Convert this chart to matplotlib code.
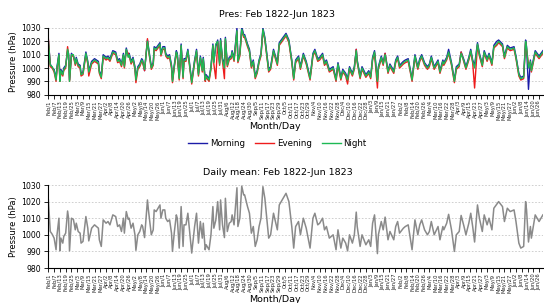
import numpy as np
import matplotlib
matplotlib.use("Agg")
import matplotlib.pyplot as plt
from matplotlib.lines import Line2D
from datetime import date, timedelta

# day offsets from 1 Feb 1822
days = [
    0, 2, 4, 6, 8, 9, 11, 12, 13, 15,
    16, 18, 20, 21, 22, 24, 26, 28, 29, 31,
    33, 34, 36, 39, 41, 42, 45, 48, 52, 53,
    55, 57, 60, 62, 64, 67, 70, 72, 74, 76,
    78, 79, 81, 83, 84, 86, 88, 90, 91, 93,
    95, 97, 98, 100, 103, 104, 107, 109, 110, 112,
    114, 116, 117, 119, 121, 122, 124, 126, 128, 129,
    131, 133, 134, 136, 138, 140, 141, 143, 145, 147,
    149, 152, 154, 156, 158, 160, 161, 163, 164, 167,
    169, 171, 172, 174, 176, 178, 179, 181, 183, 184,
    186, 188, 190, 191, 193, 196, 197, 199, 201, 203,
    204, 207, 209, 211, 213, 215, 217, 219, 221, 223,
    225, 227, 229, 231, 234, 238, 240, 244, 247, 250,
    253, 255, 257, 260, 262, 265, 268, 270, 272, 275,
    277, 280, 282, 285, 287, 289, 292, 296, 299, 301,
    304, 306, 309, 311, 313, 316, 318, 320, 321, 324,
    326, 330, 333, 335, 337, 339, 342, 343, 346, 348,
    350, 353, 355, 359, 361, 363, 365, 369, 371, 374,
    378, 381, 384, 386, 388, 391, 394, 396, 398, 401,
    405, 407, 410, 411, 414, 416, 419, 422, 424, 427,
    429, 432, 434, 437, 439, 441, 443, 446, 448, 451,
    453, 456, 458, 461, 463, 466, 468, 472, 474, 477,
    480, 484, 486, 489, 491, 494, 496, 497, 499, 501,
    502, 506, 510, 514]

morning = [
    1021, 1003, 1000, 999, 992, 1001, 1011, 991, 999, 996,
    1000, 1002, 1013, 1011, 991, 1011, 1009, 1004, 1008, 1003,
    1002, 996, 997, 1012, 1005, 998, 1005, 1007, 1005, 998,
    994, 1010, 1008, 1009, 1007, 1013, 1012, 1006, 1007, 1003,
    1011, 1002, 1015, 1009, 1011, 1005, 1008, 1001, 992, 1001,
    1003, 1007, 1006, 998, 1021, 1016, 1001, 1004, 1016, 1015,
    1017, 1019, 1011, 1016, 1016, 1011, 1009, 1010, 1002, 991,
    1003, 1013, 1011, 993, 1018, 994, 1007, 1007, 1014, 1002,
    990, 1006, 1014, 996, 1009, 999, 1008, 992, 995, 992,
    1001, 1018, 1005, 1016, 1021, 1004, 1022, 1007, 1003, 1023,
    1003, 1008, 1009, 1013, 1007, 1030, 1006, 1011, 1031, 1025,
    1025, 1018, 1014, 1002, 1006, 994, 998, 1006, 1011, 1030,
    1023, 1011, 999, 1001, 1014, 1004, 1019, 1023, 1026, 1021,
    1006, 993, 1006, 1009, 1001, 1011, 1005, 999, 993, 1011,
    1014, 1007, 1008, 1011, 1004, 1006, 999, 1001, 992, 1004,
    993, 999, 996, 992, 1001, 996, 1001, 1014, 1006, 994,
    1001, 995, 998, 994, 1008, 1013, 991, 1001, 1009, 1004,
    1011, 998, 1003, 998, 1006, 1009, 1002, 1005, 1006, 1007,
    992, 1010, 1001, 1007, 1010, 1004, 1001, 1003, 1009, 1001,
    1006, 998, 1006, 1004, 1008, 1014, 1004, 991, 1001, 1003,
    1012, 1006, 1001, 1008, 1014, 1006, 1002, 1019, 1011, 1003,
    1013, 1007, 1011, 1004, 1017, 1020, 1021, 1018, 1009, 1017,
    1015, 1016, 1009, 996, 993, 994, 1021, 1016, 984, 1006,
    999, 1013, 1009, 1013]

evening = [
    1022, 1001, 1000, 997, 990, 999, 1009, 990, 997, 994,
    998, 1000, 1016, 1009, 990, 1009, 1009, 1002, 1006, 1001,
    1000, 994, 995, 1010, 1003, 994, 1003, 1005, 1003, 996,
    992, 1008, 1006, 1007, 1005, 1011, 1010, 1004, 1005, 1001,
    1009, 1000, 1013, 1011, 1009, 1003, 1006, 999, 989, 999,
    1001, 1005, 1004, 998, 1022, 1014, 999, 1002, 1014, 1013,
    1015, 1017, 1009, 1014, 1014, 1009, 1007, 1008, 1000, 989,
    1001, 1011, 1009, 991, 1016, 992, 1005, 1005, 1012, 1000,
    988, 1004, 1012, 994, 1007, 997, 1006, 990, 993, 990,
    999, 1016, 1003, 992, 1019, 1002, 1020, 1005, 992, 1021,
    1001, 1006, 1007, 1011, 1005, 1027, 1004, 1009, 1028, 1023,
    1023, 1016, 1012, 1000, 1004, 992, 996, 1004, 1009, 1028,
    1021, 1009, 997, 999, 1012, 1002, 1017, 1021, 1024, 1019,
    1004, 991, 1004, 1007, 999, 1009, 1003, 997, 991, 1009,
    1012, 1005, 1006, 1009, 1002, 1004, 997, 999, 990, 1002,
    991, 997, 994, 988, 999, 994, 999, 1014, 1004, 992,
    999, 993, 996, 992, 1006, 1011, 985, 999, 1007, 1002,
    1011, 996, 1001, 996, 1004, 1007, 1000, 1003, 1004, 1005,
    990, 1008, 999, 1005, 1008, 1002, 999, 1001, 1007, 999,
    1004, 996, 1004, 1002, 1006, 1011, 1002, 989, 999, 1001,
    1012, 1004, 999, 1006, 1012, 1004, 985, 1017, 1009, 1001,
    1011, 1005, 1009, 1002, 1015, 1017, 1019, 1016, 1007, 1015,
    1013, 1014, 1007, 994, 991, 992, 1019, 1014, 1003, 1004,
    997, 1011, 1007, 1011]

night = [
    1020, 1002, 1001, 998, 991, 1000, 1010, 990, 998, 995,
    999, 1001, 1014, 1010, 990, 1010, 1010, 1003, 1007, 1002,
    1001, 995, 996, 1011, 1004, 997, 1004, 1006, 1004, 997,
    993, 1009, 1007, 1008, 1006, 1012, 1011, 1005, 1006, 1002,
    1010, 1001, 1014, 1008, 1010, 1004, 1007, 1000, 991, 1000,
    1002, 1006, 1005, 999, 1020, 1015, 1000, 1003, 1015, 1014,
    1016, 1018, 1010, 1015, 1015, 1010, 1008, 1009, 1001, 990,
    1002, 1012, 1010, 992, 1017, 993, 1006, 1006, 1013, 1001,
    989, 1005, 1013, 995, 1008, 998, 1007, 991, 994, 991,
    1000, 1017, 1004, 1018, 1020, 1003, 1021, 1006, 1000, 1022,
    1002, 1007, 1008, 1012, 1006, 1028, 1005, 1010, 1029, 1024,
    1024, 1017, 1013, 1001, 1005, 993, 997, 1005, 1010, 1029,
    1022, 1010, 998, 1000, 1013, 1003, 1018, 1022, 1025, 1020,
    1005, 992, 1005, 1008, 1000, 1010, 1004, 998, 992, 1010,
    1013, 1006, 1007, 1010, 1003, 1005, 998, 1000, 991, 1003,
    992, 998, 995, 991, 1000, 995, 1000, 1013, 1005, 993,
    1000, 994, 997, 993, 1007, 1012, 990, 1000, 1008, 1003,
    1010, 997, 1002, 997, 1005, 1008, 1001, 1004, 1005, 1006,
    991, 1009, 1000, 1006, 1009, 1003, 1000, 1002, 1008, 1000,
    1005, 997, 1005, 1003, 1007, 1012, 1003, 990, 1000, 1002,
    1011, 1005, 1000, 1007, 1013, 1005, 1000, 1018, 1010, 1002,
    1012, 1006, 1010, 1003, 1016, 1018, 1020, 1017, 1008, 1016,
    1014, 1015, 1008, 995, 992, 993, 1020, 1015, 1000, 1005,
    998, 1012, 1008, 1012]

start = date(1822, 2, 1)
n_days = 515
tick_step = 6

x = np.array(days)
mean = (np.array(morning) + np.array(evening) + np.array(night)) / 3.0

tick_pos = list(range(0, n_days, tick_step))
tick_lab = []
for t in tick_pos:
    d = start + timedelta(days=t)
    tick_lab.append(f"{d.strftime('%b')}/{d.day}")

c_morn = "#1c1ca8"
c_even = "#ee1c1c"
c_night = "#1db954"

fig = plt.figure(figsize=(5.44, 3.03), dpi=100)


def style_axes(ax):
    ax.set_xlim(-0.5, n_days - 1)
    ax.set_ylim(980, 1030)
    ax.set_yticks(range(980, 1031, 10))
    for v in range(990, 1031, 10):
        ax.axhline(v, color="#c8c8c8", lw=0.6, ls=(0, (2, 2)), zorder=0)
    ax.spines["top"].set_visible(False)
    ax.spines["right"].set_visible(False)
    ax.spines["left"].set_linewidth(0.8)
    ax.spines["bottom"].set_linewidth(0.8)
    ax.set_xticks(tick_pos)
    ax.set_xticklabels(tick_lab, rotation=90, fontsize=3.8, color="#222222")
    ax.tick_params(axis="x", length=3, width=0.6, pad=1)
    ax.tick_params(axis="y", length=3, width=0.6, labelsize=5.6, pad=2)


# top: three observations
ax1 = fig.add_axes([0.088, 0.6875, 0.910, 0.2201])
ax1.plot(x, morning, color=c_morn, lw=1.0)
ax1.plot(x, evening, color=c_even, lw=1.0)
ax1.plot(x, night, color=c_night, lw=1.0)
style_axes(ax1)

fig.text(0.51, 0.952, "Pres: Feb 1822-Jun 1823", ha="center", va="center", fontsize=6.8)
fig.text(0.024, 0.7975, "Pressure (hPa)", rotation=90, ha="center", va="center", fontsize=6.0)
fig.text(0.505, 0.581, "Month/Day", ha="center", va="center", fontsize=6.8)

handles = [Line2D([], [], color=c_morn, lw=1.0),
           Line2D([], [], color=c_even, lw=1.0),
           Line2D([], [], color=c_night, lw=1.0)]
fig.legend(handles, ["Morning", "Evening", "Night"], loc="center",
           bbox_to_anchor=(0.51, 0.527), ncol=3, frameon=False, fontsize=6.2,
           handlelength=2.2, handletextpad=0.3, columnspacing=1.2)

# bottom: daily mean
ax2 = fig.add_axes([0.088, 0.1155, 0.910, 0.2739])
ax2.plot(x, mean, color="#8a8a8a", lw=1.1)
style_axes(ax2)

fig.text(0.51, 0.432, "Daily mean: Feb 1822-Jun 1823", ha="center", va="center", fontsize=6.8)
fig.text(0.024, 0.2525, "Pressure (hPa)", rotation=90, ha="center", va="center", fontsize=6.0)
fig.text(0.505, 0.012, "Month/Day", ha="center", va="center", fontsize=6.8)

fig.savefig("out.png", dpi=100)
